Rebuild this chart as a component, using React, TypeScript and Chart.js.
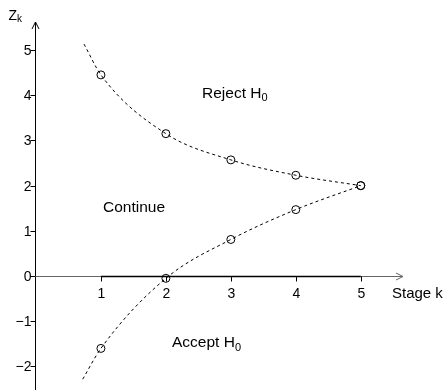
import React, { useEffect, useRef } from "react";
import { Chart, registerables } from "chart.js";

Chart.register(...registerables);

// Boundary values at each stage
const stages = [1, 2, 3, 4, 5];
const upperBoundary = [4.45, 3.15, 2.57, 2.23, 2.0];
const lowerBoundary = [-1.6, -0.05, 0.81, 1.47, 2.0];

// Dashed boundary curves (including the lead-in before stage 1)
const upperCurveX = [0.74, 1, 2, 3, 4, 5];
const upperCurveY = [5.13, 4.45, 3.15, 2.57, 2.23, 2.0];
const lowerCurveX = [0.72, 1, 2, 3, 4, 5];
const lowerCurveY = [-2.28, -1.6, -0.05, 0.81, 1.47, 2.0];

// Axis ticks
const xTicks = [1, 2, 3, 4, 5];
const yTicks = [-2, -1, 0, 1, 2, 3, 4, 5];
const yTickLabels = ["\u22122", "\u22121", "0", "1", "2", "3", "4", "5"];

// Region annotations (left edge x, centre y in data units)
const regionText = ["Reject H", "Continue", "Accept H"];
const regionSub = ["0", "", "0"];
const regionX = [2.556, 1.032, 2.094];
const regionY = [4.04, 1.515, -1.47];

const FONT = "'Liberation Sans', Arial, Helvetica, sans-serif";

export default function App() {
  const canvasRef = useRef<HTMLCanvasElement | null>(null);

  useEffect(() => {
    const canvas = canvasRef.current;
    if (!canvas) return;

    const axesPlugin = {
      id: "customAxes",
      afterDraw(chart: any) {
        const ctx = chart.ctx as CanvasRenderingContext2D;
        const xs = chart.scales.x;
        const ys = chart.scales.y;
        const area = chart.chartArea;
        const yZero = Math.round(ys.getPixelForValue(0)) + 0.5;
        const axisX = Math.round(area.left) + 0.5;
        ctx.save();

        // y axis line + arrow
        ctx.strokeStyle = "#000";
        ctx.lineWidth = 1;
        ctx.beginPath();
        ctx.moveTo(axisX, area.bottom);
        ctx.lineTo(axisX, area.top);
        ctx.moveTo(axisX - 3.5, area.top + 7);
        ctx.lineTo(axisX, area.top);
        ctx.lineTo(axisX + 3.5, area.top + 7);
        ctx.stroke();

        // y ticks and labels
        ctx.font = `14px ${FONT}`;
        ctx.fillStyle = "#000";
        ctx.textAlign = "right";
        ctx.textBaseline = "middle";
        yTicks.forEach((v, i) => {
          const py = Math.round(ys.getPixelForValue(v)) + 0.5;
          ctx.beginPath();
          ctx.moveTo(axisX - 5, py);
          ctx.lineTo(axisX, py);
          ctx.stroke();
          ctx.fillText(yTickLabels[i], axisX - 4, py + 0.5);
        });

        // x axis: grey full line with arrow, black segment between first and last tick
        const xEnd = area.right;
        ctx.strokeStyle = "#666";
        ctx.beginPath();
        ctx.moveTo(axisX, yZero);
        ctx.lineTo(xEnd, yZero);
        ctx.moveTo(xEnd - 7, yZero - 3.5);
        ctx.lineTo(xEnd, yZero);
        ctx.lineTo(xEnd - 7, yZero + 3.5);
        ctx.stroke();

        const xa = xs.getPixelForValue(xTicks[0]);
        const xb = xs.getPixelForValue(xTicks[xTicks.length - 1]);
        ctx.strokeStyle = "#000";
        ctx.lineWidth = 1.6;
        ctx.beginPath();
        ctx.moveTo(xa, yZero);
        ctx.lineTo(xb, yZero);
        ctx.stroke();
        ctx.lineWidth = 1;

        ctx.textAlign = "center";
        ctx.textBaseline = "middle";
        xTicks.forEach((v) => {
          const px = Math.round(xs.getPixelForValue(v)) + 0.5;
          ctx.beginPath();
          ctx.moveTo(px, yZero);
          ctx.lineTo(px, yZero + 5);
          ctx.stroke();
          ctx.fillText(String(v), px, yZero + 18);
        });

        // axis titles
        ctx.font = `15px ${FONT}`;
        ctx.textAlign = "left";
        ctx.fillText("Stage k", xEnd - 11, yZero + 17);

        ctx.textBaseline = "alphabetic";
        ctx.font = `14px ${FONT}`;
        ctx.fillText("Z", 8.5, 19.5);
        const zw = ctx.measureText("Z").width;
        ctx.font = `10px ${FONT}`;
        ctx.fillText("k", 8.5 + zw, 22);

        // region annotations
        regionText.forEach((t, i) => {
          const px = xs.getPixelForValue(regionX[i]);
          const py = ys.getPixelForValue(regionY[i]);
          ctx.font = `15.5px ${FONT}`;
          ctx.textAlign = "left";
          ctx.textBaseline = "middle";
          ctx.fillText(t, px, py);
          if (regionSub[i]) {
            const w = ctx.measureText(t).width;
            ctx.font = `11px ${FONT}`;
            ctx.fillText(regionSub[i], px + w, py + 5);
          }
        });

        ctx.restore();
      },
    };

    const curveStyle = {
      showLine: true,
      borderColor: "#000",
      borderWidth: 1,
      borderDash: [3, 3],
      pointRadius: 0,
      cubicInterpolationMode: "monotone" as const,
      fill: false,
    };
    const markerStyle = {
      showLine: false,
      pointRadius: 4,
      pointBorderWidth: 1,
      pointBorderColor: "#000",
      pointBackgroundColor: "rgba(0,0,0,0)",
      pointStyle: "circle" as const,
    };

    const chart = new Chart(canvas, {
      type: "scatter",
      data: {
        datasets: [
          { label: "upper", data: stages.map((s, i) => ({ x: s, y: upperBoundary[i] })), ...markerStyle },
          { label: "lower", data: stages.map((s, i) => ({ x: s, y: lowerBoundary[i] })), ...markerStyle },
          { label: "upper curve", data: upperCurveX.map((x, i) => ({ x, y: upperCurveY[i] })), ...curveStyle },
          { label: "lower curve", data: lowerCurveX.map((x, i) => ({ x, y: lowerCurveY[i] })), ...curveStyle },
        ],
      },
      options: {
        animation: false,
        responsive: true,
        maintainAspectRatio: false,
        devicePixelRatio: 1,
        layout: { autoPadding: false, padding: { left: 35, top: 22, right: 43, bottom: 0 } },
        plugins: {
          legend: { display: false },
          tooltip: { enabled: false },
        },
        scales: {
          x: { type: "linear", min: -0.015, max: 5.65, display: false },
          y: { type: "linear", min: -2.52, max: 5.62, display: false },
        },
      },
      plugins: [axesPlugin],
    });

    return () => chart.destroy();
  }, []);

  return (
    <div style={{ position: "fixed", left: 0, top: 0, width: 446, height: 390, background: "#fff" }}>
      <canvas ref={canvasRef} />
    </div>
  );
}
